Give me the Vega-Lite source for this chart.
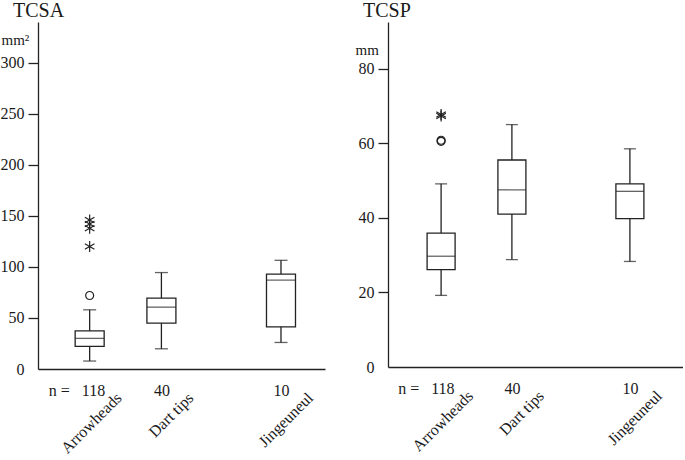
{
  "$schema": "https://vega.github.io/schema/vega-lite/v6.json",
  "padding": {"left": 0, "top": 1, "right": 0, "bottom": 0},
  "background": "white",
  "config": {
    "view": {"stroke": null},
    "font": "Liberation Serif",
    "axis": {"labelFont": "Liberation Serif", "titleFont": "Liberation Serif", "labelColor": "#1a1a1a", "titleColor": "#1a1a1a", "domainColor": "#222", "tickColor": "#222", "domainWidth": 1.3, "tickWidth": 1.3, "grid": false},
    "title": {"font": "Liberation Serif", "fontWeight": "normal", "color": "#1a1a1a"}
  },
  "datasets": {
    "tcsaBox": [
      {"group": "Arrowheads", "n": 118, "lo": 7.8, "q1": 22.2, "med": 30, "q3": 37.4, "hi": 58},
      {"group": "Dart tips", "n": 40, "lo": 19.8, "q1": 45, "med": 60.6, "q3": 69.4, "hi": 94.5},
      {"group": "Jingeuneul", "n": 10, "lo": 26, "q1": 41.3, "med": 87, "q3": 93, "hi": 106.5}
    ],
    "tcsaOut": [
      {"group": "Arrowheads", "value": 72, "kind": "circle"},
      {"group": "Arrowheads", "value": 146, "kind": "asterisk"},
      {"group": "Arrowheads", "value": 142, "kind": "asterisk"},
      {"group": "Arrowheads", "value": 138, "kind": "asterisk"},
      {"group": "Arrowheads", "value": 120, "kind": "asterisk"}
    ],
    "tcspBox": [
      {"group": "Arrowheads", "n": 118, "lo": 19.2, "q1": 26.1, "med": 29.7, "q3": 35.9, "hi": 49.1},
      {"group": "Dart tips", "n": 40, "lo": 28.8, "q1": 41, "med": 47.5, "q3": 55.5, "hi": 65},
      {"group": "Jingeuneul", "n": 10, "lo": 28.3, "q1": 39.8, "med": 47.1, "q3": 49.1, "hi": 58.5}
    ],
    "tcspOut": [
      {"group": "Arrowheads", "value": 60.5, "kind": "circle"},
      {"group": "Arrowheads", "value": 60.8, "kind": "circle"},
      {"group": "Arrowheads", "value": 67.3, "kind": "asterisk"},
      {"group": "Arrowheads", "value": 67.7, "kind": "asterisk"}
    ]
  },
  "hconcat": [
    {
      "width": 287,
      "height": 347,
      "title": {"text": "TCSA", "anchor": "start", "dx": 13, "fontSize": 20, "offset": 1},
      "resolve": {"axis": {"x": "independent"}},
      "layer": [
        {
          "data": {"name": "tcsaBox"},
          "mark": {"type": "rule", "color": "#222", "strokeWidth": 1.3},
          "encoding": {
            "x": {"field": "group", "type": "nominal", "sort": null,
              "scale": {"type": "point", "domain": ["e1", "Arrowheads", "g1", "g2", "Dart tips", "g3", "g4", "g5", "g6", "Jingeuneul", "e2"], "padding": 1, "align": 0.58},
              "axis": {"orient": "bottom", "values": ["Arrowheads", "Dart tips", "Jingeuneul"], "title": null, "domain": false, "ticks": false, "labelAngle": -45, "labelAlign": "right", "labelBaseline": "middle", "labelFontSize": 16, "labelPadding": 26, "labelOffset": 29, "labelOverlap": false, "labelBound": false, "labelFlush": false}},
            "y": {"field": "lo", "type": "quantitative",
              "scale": {"domain": [0, 340], "nice": false, "zero": true},
              "axis": {"values": [0, 50, 100, 150, 200, 250, 300], "tickSize": 10, "labelPadding": 4, "labelFontSize": 16, "tickOpacity": {"condition": {"test": "datum.value == 0", "value": 0}, "value": 1}, "title": "mm²", "titleAngle": 0, "titleX": -37, "titleY": 22, "titleAlign": "left", "titleBaseline": "alphabetic", "titleFontSize": 15, "titleFontWeight": "normal"}},
            "y2": {"field": "hi"}
          }
        },
        {
          "data": {"name": "tcsaBox"},
          "mark": {"type": "bar", "fill": "white", "stroke": "#222", "strokeWidth": 1.3, "width": 29},
          "encoding": {
            "x": {"field": "group", "type": "nominal", "sort": null,
              "axis": {"orient": "bottom", "values": ["Arrowheads", "Dart tips", "Jingeuneul"], "title": null, "domain": true, "ticks": false, "labelAngle": 0, "labelFontSize": 16, "labelPadding": 13, "labelBaseline": "top",
                "labelExpr": "datum.value == 'Arrowheads' ? 'n =\u00a0\u00a0 118' : datum.value == 'Dart tips' ? '40' : '10'",
                "labelAlign": {"condition": {"test": "datum.value == 'Arrowheads'", "value": "right"}, "value": "center"},
                "labelOffset": {"condition": {"test": "datum.value == 'Arrowheads'", "value": 15}, "value": 0},
                "labelOverlap": false, "labelBound": false, "labelFlush": false}},
            "y": {"field": "q1", "type": "quantitative"},
            "y2": {"field": "q3"}
          }
        },
        {
          "data": {"name": "tcsaBox"},
          "mark": {"type": "tick", "color": "#222", "thickness": 1.3, "size": 13},
          "encoding": {
            "x": {"field": "group", "type": "nominal", "sort": null, "axis": null},
            "y": {"field": "lo", "type": "quantitative"}
          }
        },
        {
          "data": {"name": "tcsaBox"},
          "mark": {"type": "tick", "color": "#222", "thickness": 1.3, "size": 13},
          "encoding": {
            "x": {"field": "group", "type": "nominal", "sort": null, "axis": null},
            "y": {"field": "hi", "type": "quantitative"}
          }
        },
        {
          "data": {"name": "tcsaBox"},
          "mark": {"type": "tick", "color": "#222", "thickness": 1.3, "size": 29},
          "encoding": {
            "x": {"field": "group", "type": "nominal", "sort": null, "axis": null},
            "y": {"field": "med", "type": "quantitative"}
          }
        },
        {
          "data": {"name": "tcsaOut"},
          "mark": {"type": "point", "filled": false, "color": "#222", "strokeWidth": 1.2, "opacity": 1},
          "encoding": {
            "x": {"field": "group", "type": "nominal", "sort": null, "axis": null},
            "y": {"field": "value", "type": "quantitative"},
            "shape": {"field": "kind", "type": "nominal", "legend": null,
              "scale": {"domain": ["circle", "asterisk"], "range": ["circle", "M0,-1L0,1M-0.87,-0.5L0.87,0.5M-0.87,0.5L0.87,-0.5"]}},
            "size": {"field": "kind", "type": "nominal", "legend": null,
              "scale": {"domain": ["circle", "asterisk"], "range": [64, 121]}}
          }
        }
      ]
    },
    {
      "width": 295,
      "height": 345,
      "title": {"text": "TCSP", "anchor": "start", "dx": 8, "fontSize": 20, "offset": 1},
      "resolve": {"axis": {"x": "independent"}},
      "layer": [
        {
          "data": {"name": "tcspBox"},
          "mark": {"type": "rule", "color": "#222", "strokeWidth": 1.3},
          "encoding": {
            "x": {"field": "group", "type": "nominal", "sort": null,
              "scale": {"type": "point", "domain": ["r1", "r2", "r3", "r4", "Arrowheads", "h1", "h2", "h3", "h4", "h5", "Dart tips", "h6", "h7", "h8", "h9", "h10", "h11", "h12", "h13", "h14", "Jingeuneul", "r5", "r6", "r7", "r8"], "padding": 0.5, "align": 0.5},
              "axis": {"orient": "bottom", "values": ["Arrowheads", "Dart tips", "Jingeuneul"], "title": null, "domain": false, "ticks": false, "labelAngle": -45, "labelAlign": "right", "labelBaseline": "middle", "labelFontSize": 16, "labelPadding": 26, "labelOffset": 29, "labelOverlap": false, "labelBound": false, "labelFlush": false}},
            "y": {"field": "lo", "type": "quantitative",
              "scale": {"domain": [0, 92.5], "nice": false, "zero": true},
              "axis": {"values": [0, 20, 40, 60, 80], "tickSize": 10, "labelPadding": 4, "labelFontSize": 16, "tickOpacity": {"condition": {"test": "datum.value == 0", "value": 0}, "value": 1}, "title": "mm", "titleAngle": 0, "titleX": -33, "titleY": 32, "titleAlign": "left", "titleBaseline": "alphabetic", "titleFontSize": 15, "titleFontWeight": "normal"}},
            "y2": {"field": "hi"}
          }
        },
        {
          "data": {"name": "tcspBox"},
          "mark": {"type": "bar", "fill": "white", "stroke": "#222", "strokeWidth": 1.3, "width": 28},
          "encoding": {
            "x": {"field": "group", "type": "nominal", "sort": null,
              "axis": {"orient": "bottom", "values": ["Arrowheads", "Dart tips", "Jingeuneul"], "title": null, "domain": true, "ticks": false, "labelAngle": 0, "labelFontSize": 16, "labelPadding": 13, "labelBaseline": "top",
                "labelExpr": "datum.value == 'Arrowheads' ? 'n =\u00a0\u00a0 118' : datum.value == 'Dart tips' ? '40' : '10'",
                "labelAlign": {"condition": {"test": "datum.value == 'Arrowheads'", "value": "right"}, "value": "center"},
                "labelOffset": {"condition": {"test": "datum.value == 'Arrowheads'", "value": 13}, "value": 0},
                "labelOverlap": false, "labelBound": false, "labelFlush": false}},
            "y": {"field": "q1", "type": "quantitative"},
            "y2": {"field": "q3"}
          }
        },
        {
          "data": {"name": "tcspBox"},
          "mark": {"type": "tick", "color": "#222", "thickness": 1.3, "size": 12},
          "encoding": {
            "x": {"field": "group", "type": "nominal", "sort": null, "axis": null},
            "y": {"field": "lo", "type": "quantitative"}
          }
        },
        {
          "data": {"name": "tcspBox"},
          "mark": {"type": "tick", "color": "#222", "thickness": 1.3, "size": 12},
          "encoding": {
            "x": {"field": "group", "type": "nominal", "sort": null, "axis": null},
            "y": {"field": "hi", "type": "quantitative"}
          }
        },
        {
          "data": {"name": "tcspBox"},
          "mark": {"type": "tick", "color": "#222", "thickness": 1.3, "size": 28},
          "encoding": {
            "x": {"field": "group", "type": "nominal", "sort": null, "axis": null},
            "y": {"field": "med", "type": "quantitative"}
          }
        },
        {
          "data": {"name": "tcspOut"},
          "mark": {"type": "point", "filled": false, "color": "#222", "strokeWidth": 1.2, "opacity": 1},
          "encoding": {
            "x": {"field": "group", "type": "nominal", "sort": null, "axis": null},
            "y": {"field": "value", "type": "quantitative"},
            "shape": {"field": "kind", "type": "nominal", "legend": null,
              "scale": {"domain": ["circle", "asterisk"], "range": ["circle", "M0,-1L0,1M-0.87,-0.5L0.87,0.5M-0.87,0.5L0.87,-0.5"]}},
            "size": {"field": "kind", "type": "nominal", "legend": null,
              "scale": {"domain": ["circle", "asterisk"], "range": [64, 121]}}
          }
        }
      ]
    }
  ],
  "spacing": 30
}
